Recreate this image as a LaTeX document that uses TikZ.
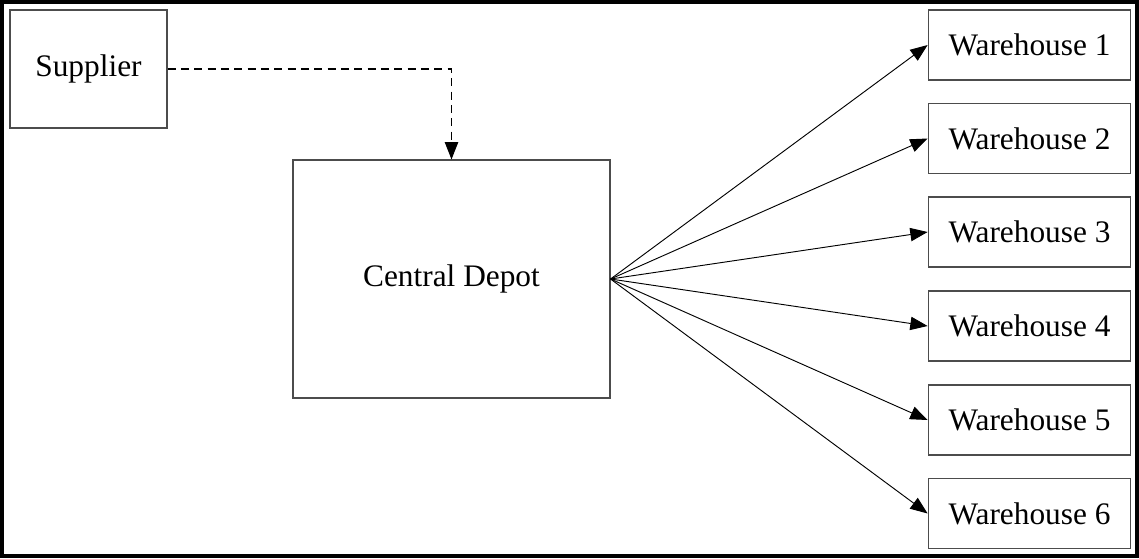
\documentclass[tikz,border=0pt]{standalone}
\usepackage{fontspec}
\setmainfont{Liberation Serif}
\usetikzlibrary{arrows.meta}
\begin{document}
\begin{tikzpicture}[x=0.75pt,y=-0.75pt,
  box/.style={draw=black!70,line width=0.8pt,inner sep=0pt,font=\fontsize{23.5}{27}\selectfont},
  wh/.style={box,minimum width=152pt,minimum height=52.5pt},
  conn/.style={draw=black,line width=0.7pt,-{Triangle[length=13pt,width=10pt]}}
]
\useasboundingbox (0,0) rectangle (1139,558);
\draw[line width=2.4pt] (2,2) rectangle (1137,556);
\node[box,minimum width=117.75pt,minimum height=88.5pt] (sup) at (88.5,69) {Supplier};
\node[box,minimum width=237.75pt,minimum height=178.5pt] (dep) at (451.5,279) {Central Depot};
\node[wh] (w1) at (1029.5,45) {Warehouse 1};
\node[wh] (w2) at (1029.5,138.5) {Warehouse 2};
\node[wh] (w3) at (1029.5,232) {Warehouse 3};
\node[wh] (w4) at (1029.5,326) {Warehouse 4};
\node[wh] (w5) at (1029.5,420) {Warehouse 5};
\node[wh] (w6) at (1029.5,513.5) {Warehouse 6};
\draw[conn,line width=0.9pt,dash pattern=on 6pt off 4pt] (sup.east) -| (dep.north);
\foreach \w in {w1,w2,w3,w4,w5,w6}{
  \draw[conn] (dep.east) -- (\w.west);
}
\end{tikzpicture}
\end{document}
